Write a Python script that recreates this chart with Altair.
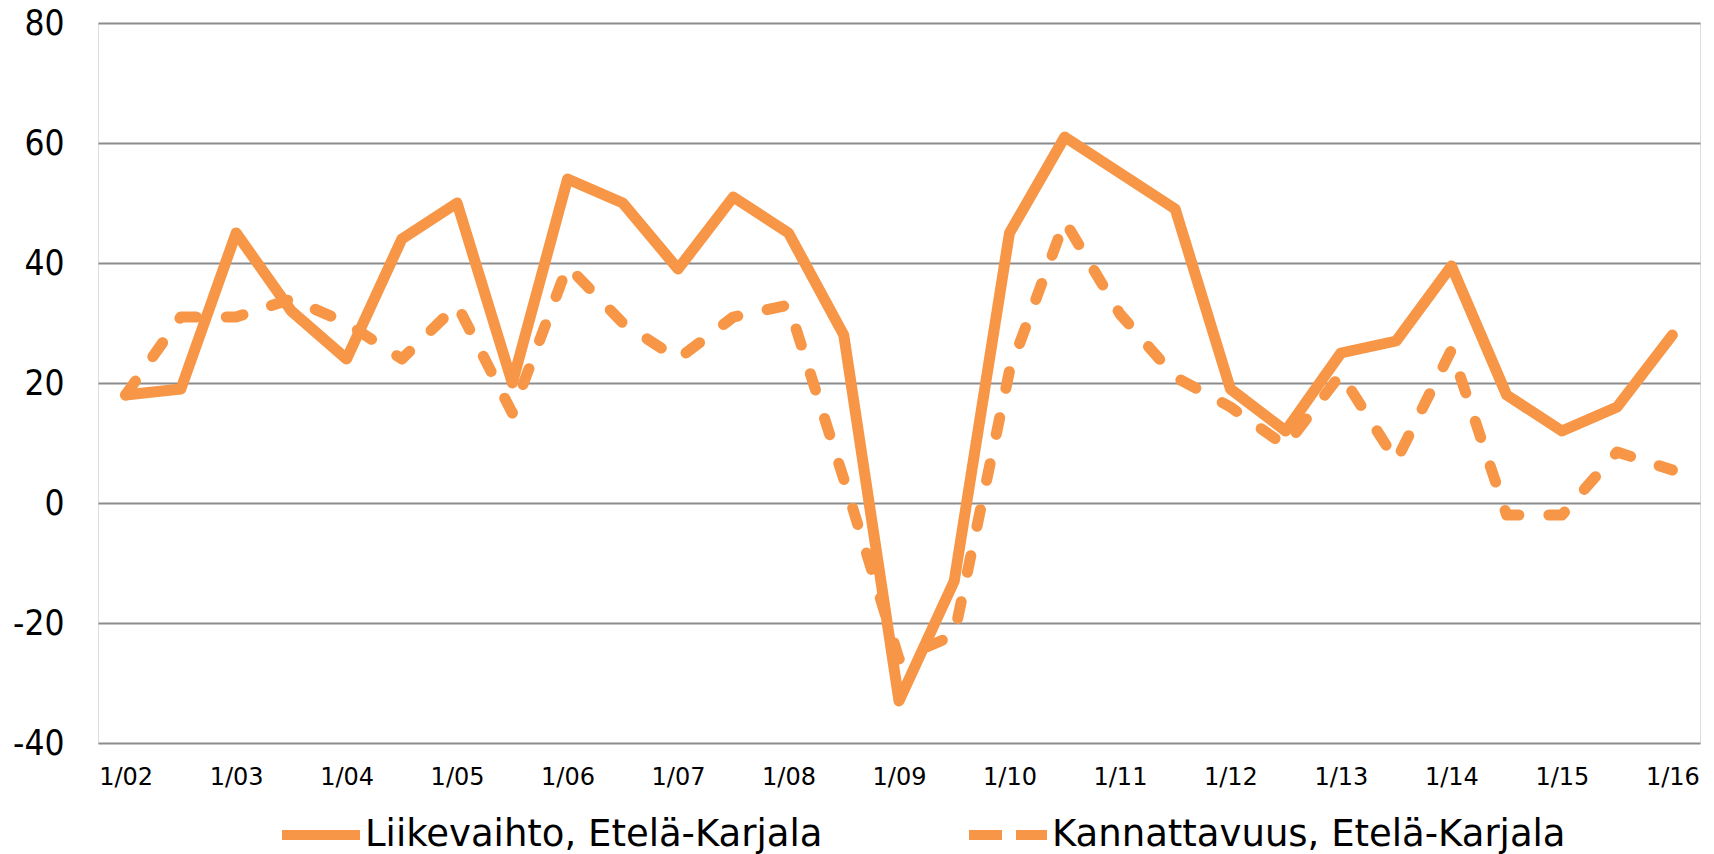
import altair as alt
import pandas as pd

periods = ["1/02", "7/02", "1/03", "7/03", "1/04", "7/04", "1/05", "7/05",
           "1/06", "7/06", "1/07", "7/07", "1/08", "7/08", "1/09", "7/09",
           "1/10", "7/10", "1/11", "7/11", "1/12", "7/12", "1/13", "7/13",
           "1/14", "7/14", "1/15", "7/15", "1/16"]
liikevaihto = [18, 19, 45, 32, 24, 44, 50, 20, 54, 50, 39, 51, 45, 28, -33, -13,
               45, 61, 55, 49, 19, 12, 25, 27, 39.5, 18, 12, 16, 28]
kannattavuus = [18, 31, 31, 34, 30, 24, 33, 15, 39.5, 30, 24, 31, 33, 4, -26, -22,
                22, 47, 31.5, 21, 16, 9.5, 21.5, 7, 25.5, -2, -2, 8.5, 5.5]
series_names = ["Liikevaihto, Etelä-Karjala", "Kannattavuus, Etelä-Karjala"]
y_ticks = [-40, -20, 0, 20, 40, 60, 80]
x_labels = [p for p in periods if p.startswith("1/")]

rows = []
for p, a, b in zip(periods, liikevaihto, kannattavuus):
    rows.append({"period": p, "value": a, "series": series_names[0]})
    rows.append({"period": p, "value": b, "series": series_names[1]})
df = pd.DataFrame(rows)

ORANGE = "#F79646"
GRID = "#8c8c8c"

x = alt.X("period:O", sort=periods,
          scale=alt.Scale(type="point", padding=0.5),
          axis=alt.Axis(values=x_labels, title=None, ticks=False, domain=False,
                        labelAngle=0, labelFontSize=24, labelPadding=22,
                        labelColor="#000000", labelFont="DejaVu Sans", grid=False))
y = alt.Y("value:Q", scale=alt.Scale(domain=[-40, 80], nice=False, zero=False),
          axis=alt.Axis(values=y_ticks, title=None, ticks=False, domain=False,
                        labelFontSize=35, labelPadding=34, labelColor="#000000",
                        labelFont="DejaVu Sans Condensed",
                        labelExpr="'' + datum.value",
                        gridColor=GRID, gridWidth=2, gridOpacity=1))

legend_dash = alt.StrokeDash(
    "series:N",
    scale=alt.Scale(domain=series_names, range=[[1, 0], [33, 14]]),
    legend=alt.Legend(title=None, orient="none", direction="horizontal",
                      legendX=179, legendY=768, padding=0,
                      symbolType="stroke", symbolSize=6084,
                      symbolStrokeWidth=10, symbolStrokeColor=ORANGE,
                      labelFont="DejaVu Sans", labelFontSize=37,
                      labelColor="#000000", labelOffset=0, columnPadding=126,
                      labelLimit=800))

base = alt.Chart(df).encode(x=x, y=y)

solid = base.transform_filter(alt.datum.series == series_names[0]).mark_line(
    color=ORANGE, strokeWidth=11, strokeJoin="round", strokeCap="round")
dashed = base.transform_filter(alt.datum.series == series_names[1]).mark_line(
    color=ORANGE, strokeWidth=11, strokeJoin="round", strokeCap="round",
    strokeDash=[17, 30])
legend_layer = base.transform_filter("false").mark_line(
    color=ORANGE, strokeWidth=10).encode(strokeDash=legend_dash)

chart = alt.layer(solid, dashed, legend_layer).properties(
    width=1602, height=720,
    autosize=alt.AutoSizeParams(type="none"),
    padding={"left": 90, "top": 15, "right": 6, "bottom": 111},
).configure_view(stroke=GRID, strokeWidth=2).configure(background="white")

chart.save("out.html", embed_options={"renderer": "svg", "actions": False})
